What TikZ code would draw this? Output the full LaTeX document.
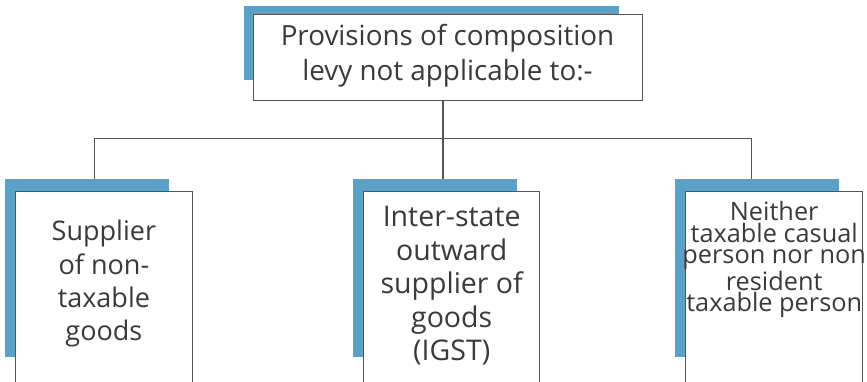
\documentclass[tikz,border=0pt]{standalone}
\usepackage{fontspec}
\setmainfont{Open Sans}
\definecolor{shade}{RGB}{91,161,199}
\definecolor{edge}{RGB}{85,85,85}
\definecolor{ink}{RGB}{58,58,58}
\tikzset{
  shadowbox/.style={fill=shade, draw=none},
  cardbox/.style={draw=edge, line width=1.4pt, fill=white},
  link/.style={draw=edge, line width=1.4pt},
  cardtext/.style={text=ink, align=center, inner sep=0pt, anchor=north},
}
\begin{document}
\begin{tikzpicture}[x=1pt,y=-1pt]
\useasboundingbox (0,0) rectangle (867,381);
\clip (0,0) rectangle (867,381);

% top box
\fill[shadowbox] (244,6) rectangle (619,80);
\node[cardbox, minimum width=389pt, minimum height=86pt, anchor=north west] (top) at (252.7,14) {};
\node[cardtext, font=\fontsize{27.8}{35}\selectfont] (toptext) at (447.5,24) {Provisions of composition\\levy not applicable to:-};

% lower shadows
\fill[shadowbox] (5,179) rectangle (169,357);
\fill[shadowbox] (353,179) rectangle (517,357);
\fill[shadowbox] (675,179) rectangle (839,357);

% lower boxes (run past the lower edge)
\node[cardbox, minimum width=177pt, minimum height=220pt, anchor=north west] (left) at (14.7,191) {};
\node[cardbox, minimum width=176pt, minimum height=220pt, anchor=north west] (mid) at (363,191) {};
\node[cardbox, minimum width=177pt, minimum height=220pt, anchor=north west] (right) at (685,191) {};

\node[cardtext, font=\fontsize{27}{33.3}\selectfont] (lefttext) at (left.north) [yshift=-29pt] {Supplier\\of non-\\taxable\\goods};
\node[cardtext, font=\fontsize{28.5}{33.5}\selectfont] (midtext) at (mid.north) [yshift=-15pt] {Inter-state\\outward\\supplier of\\goods\\(IGST)};
\node[cardtext, font=\fontsize{25.3}{21.7}\selectfont] (righttext) at (right.north) [yshift=-10pt] {Neither\\taxable casual\\person nor non\\resident\\taxable person};

% connectors
\coordinate (bus) at (0,138.7);
\coordinate (drop) at ([xshift=-5pt]top.south);
\draw[link] (drop) -- (drop |- bus);
\draw[link] (94.7,179) |- (751.3,138.7) -- (751.3,179);
\draw[link] (443,138.7) -- (443,179);
\end{tikzpicture}
\end{document}
